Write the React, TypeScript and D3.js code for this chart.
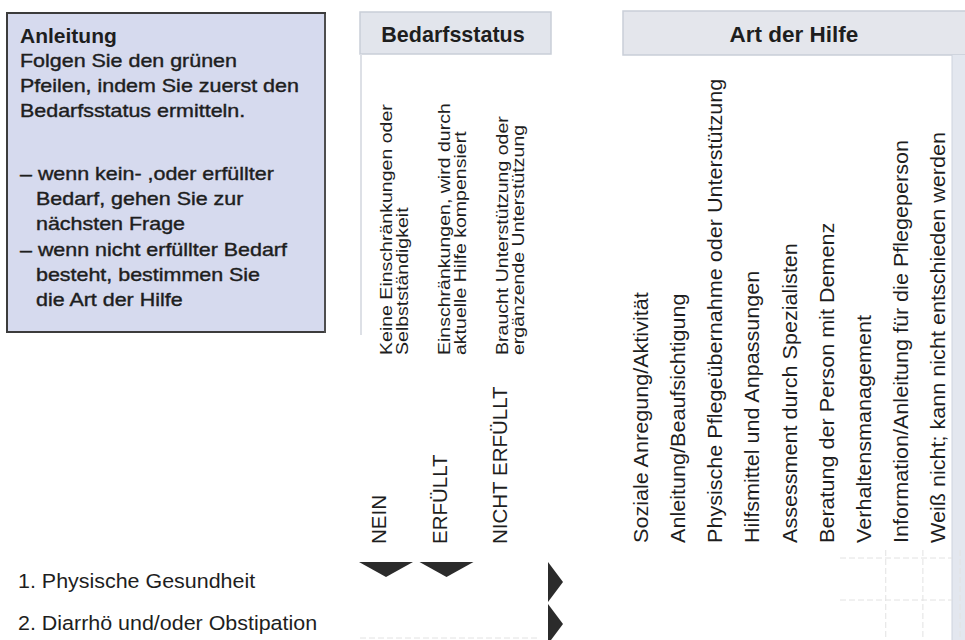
import React from 'react';
import * as d3 from 'd3';

// ---- content ----
const anleitungTitle = 'Anleitung';
const anleitungIntro = ['Folgen Sie den grünen', 'Pfeilen, indem Sie zuerst den', 'Bedarfsstatus ermitteln.'];
const anleitungRules = [
    ['– wenn kein- ,oder erfüllter', 'Bedarf, gehen Sie zur', 'nächsten Frage'],
    ['– wenn nicht erfüllter Bedarf', 'besteht, bestimmen Sie', 'die Art der Hilfe'],
];

const statusTitle = 'Bedarfsstatus';
const statusOptions = ['NEIN', 'ERFÜLLT', 'NICHT ERFÜLLT'];
const statusDescriptions = [
    ['Keine Einschränkungen oder', 'Selbstständigkeit'],
    ['Einschränkungen, wird durch', 'aktuelle Hilfe kompensiert'],
    ['Braucht Unterstützung oder', 'ergänzende Unterstützung'],
];

const hilfeTitle = 'Art der Hilfe';
const hilfeArten = [
    'Soziale Anregung/Aktivität',
    'Anleitung/Beaufsichtigung',
    'Physische Pflegeübernahme oder Unterstützung',
    'Hilfsmittel und Anpassungen',
    'Assessment durch Spezialisten',
    'Beratung der Person mit Demenz',
    'Verhaltensmanagement',
    'Information/Anleitung für die Pflegeperson',
    'Weiß nicht; kann nicht entschieden werden',
];

const fragen = ['1. Physische Gesundheit', '2. Diarrhö und/oder Obstipation'];
// status columns that get a down arrow above the first question
const downArrows = ['NEIN', 'ERFÜLLT'];

const W = 965;
const H = 640;
const FONT = '"Liberation Sans", Arial, sans-serif';
const INK = '#1e1e1e';

interface STextProps {
    x: number;
    y: number;
    rot?: number;
    sx?: number;
    size: number;
    weight?: string | number;
    anchor?: string;
    stroke?: number;
    children: React.ReactNode;
}

// text that can be rotated and stretched along its own direction
const SText: React.FC<STextProps> = ({ x, y, rot = 0, sx = 1, size, weight = 'normal', anchor = 'start', stroke = 0, children }) => (
    <text
        transform={`translate(${x},${y}) rotate(${rot}) scale(${sx},1)`}
        fontSize={size}
        fontWeight={weight}
        textAnchor={anchor}
        fill={INK}
        stroke={stroke ? INK : 'none'}
        strokeWidth={stroke}
        fontFamily={FONT}
    >
        {children}
    </text>
);

const App: React.FC = () => {
    const statusX = d3.scalePoint<string>().domain(statusOptions).range([386, 507]);
    const descX = d3.scalePoint<number>().domain(d3.range(statusDescriptions.length)).range([392, 508]);
    const hilfeX = d3.scalePoint<string>().domain(hilfeArten).range([648, 945]);
    const rowY = d3.scaleBand<string>().domain(fragen).range([561, 645]);

    // instruction lines with their baselines
    const introY = d3.range(anleitungIntro.length).map(i => 67 + i * 25);
    const ruleLines = anleitungRules.flatMap((g, gi) =>
        g.map((t, li) => ({ t, indent: li > 0, y: 180 + (gi * 3 + li) * 25.2 }))
    );

    return (
        <svg width={W} height={H} style={{ position: 'absolute', left: 0, top: 0, background: '#fff' }}>
            <rect x={0} y={0} width={W} height={H} fill="#ffffff" />

            {/* Anleitung box */}
            <rect x={7} y={13} width={318} height={319} fill="#d6daee" stroke="#3c3c3c" strokeWidth={2} />
            <line x1={325} y1={14} x2={325} y2={333} stroke="#555" strokeWidth={1.5} />
            <SText x={20} y={43} size={21} weight="bold">{anleitungTitle}</SText>
            {anleitungIntro.map((t, i) => (
                <SText key={t} x={20} y={introY[i]} size={18.5} sx={1.16} stroke={0.4}>{t}</SText>
            ))}
            {ruleLines.map(l => (
                <SText key={l.t} x={l.indent ? 36 : 20} y={l.y} size={18.5} sx={1.16} stroke={0.4}>{l.t}</SText>
            ))}

            {/* Bedarfsstatus header */}
            <rect x={360} y={12} width={191} height={42} fill="#e2e5ec" stroke="#c9ced8" strokeWidth={1.5} />
            <line x1={361} y1={54} x2={361} y2={335} stroke="#dde0e6" strokeWidth={2} />
            <SText x={453} y={42} size={21.5} weight="bold" anchor="middle">{statusTitle}</SText>

            {/* Art der Hilfe header */}
            <rect x={623} y={11} width={345} height={44} fill="#e4e6ec" stroke="#c9ced8" strokeWidth={1.5} />
            <SText x={794} y={42} size={22.5} weight="bold" anchor="middle">{hilfeTitle}</SText>
            <rect x={952} y={55} width={13} height={H - 55} fill="#e3e7ef" />
            <line x1={952} y1={55} x2={952} y2={H} stroke="#cdd3de" strokeWidth={1} />

            {/* status descriptions, rotated */}
            {statusDescriptions.map((lines, i) =>
                lines.map((t, li) => (
                    <SText key={t} x={(descX(i) ?? 0) + li * 16} y={355} rot={-90} size={17} sx={1.15}>{t}</SText>
                ))
            )}

            {/* status options */}
            {statusOptions.map(s => (
                <SText key={s} x={statusX(s) ?? 0} y={544} rot={-90} size={20.5}>{s}</SText>
            ))}

            {/* types of help, rotated */}
            {hilfeArten.map(h => (
                <SText key={h} x={hilfeX(h) ?? 0} y={543} rot={-90} size={20} sx={1.08}>{h}</SText>
            ))}

            {/* faint grid of the answer cells */}
            <g stroke="#e2e2e2" strokeWidth={1} strokeDasharray="6 3">
                {hilfeArten.slice(6).map(h => (
                    <line key={h} x1={(hilfeX(h) ?? 0) + 15} y1={550} x2={(hilfeX(h) ?? 0) + 15} y2={H} />
                ))}
                {fragen.map(f => (
                    <line key={f} x1={840} y1={(rowY(f) ?? 0) - 3} x2={952} y2={(rowY(f) ?? 0) - 3} />
                ))}
                <line x1={360} y1={638} x2={540} y2={638} />
            </g>

            {/* down arrows above question 1 */}
            {downArrows.map(s => (
                <path
                    key={s}
                    d={`M${(statusX(s) ?? 0) - 27},562 L${(statusX(s) ?? 0) + 27},562 L${statusX(s) ?? 0},577 Z`}
                    fill="#2b2b2b"
                />
            ))}

            {/* questions and arrows to Art der Hilfe */}
            {fragen.map(f => {
                const cy = (rowY(f) ?? 0) + rowY.bandwidth() / 2;
                return (
                    <g key={f}>
                        <SText x={18} y={cy + 6} size={19.5} sx={1.1}>{f}</SText>
                        <path d={`M548,${cy - 20} L563,${cy} L548,${cy + 20} Z`} fill="#2b2b2b" />
                    </g>
                );
            })}
        </svg>
    );
};

export default App;
